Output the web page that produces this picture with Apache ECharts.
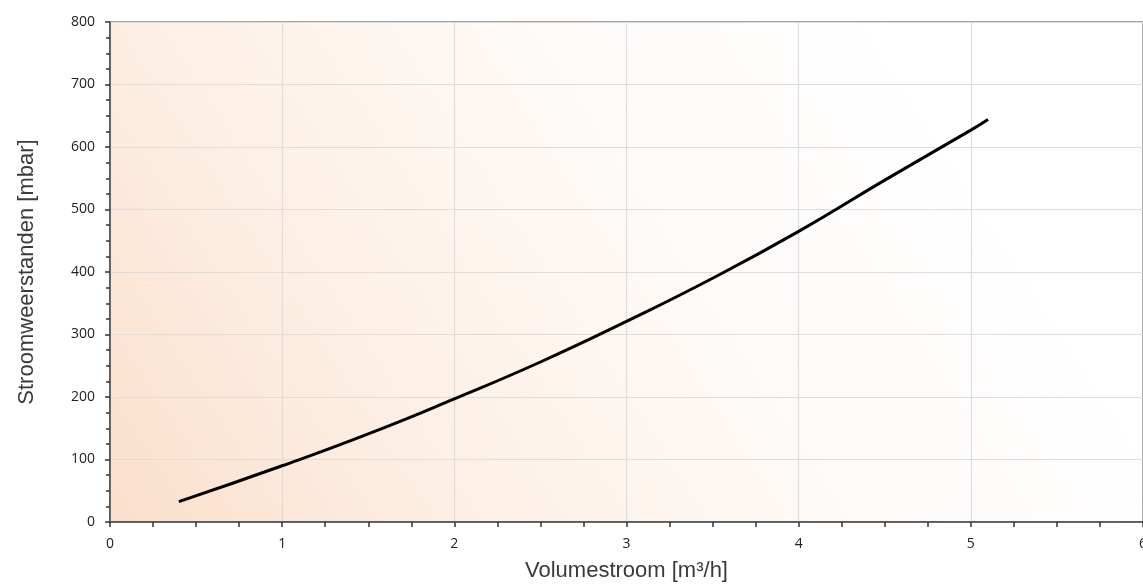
<!DOCTYPE html>
<html>
<head>
<meta charset="utf-8">
<script src="https://cdn.jsdelivr.net/npm/echarts@6/dist/echarts.min.js"></script>
<style>
html,body{margin:0;padding:0;background:#fff;}
#chart{width:1143px;height:586px;}
</style>
</head>
<body>
<div id="chart"></div>
<script>
var flowValues = [0.4, 1, 1.5, 2, 2.5, 3, 3.5, 4, 4.5, 5, 5.1];
var resistanceValues = [32.5, 90, 141, 197, 256, 321, 390, 465, 547, 627, 644];
var xAxisTitle = 'Volumestroom [m³/h]';
var yAxisTitle = 'Stroomweerstanden [mbar]';

var seriesData = flowValues.map(function (x, i) { return [x, resistanceValues[i]]; });

var chart = echarts.init(document.getElementById('chart'));
chart.setOption({
  animation: false,
  backgroundColor: '#ffffff',
  grid: {
    left: 110, right: 0, top: 22, bottom: 64,
    containLabel: false,
    outerBoundsMode: 'none',
    show: true,
    borderColor: '#444',
    borderWidth: 1,
    backgroundColor: new echarts.graphic.LinearGradient(0, 1, 0.75, 0, [
      { offset: 0, color: '#fbdfcb' },
      { offset: 0.35, color: '#fdf0e6' },
      { offset: 0.7, color: '#fefbf9' },
      { offset: 1, color: '#ffffff' }
    ])
  },
  xAxis: {
    type: 'value',
    min: 0, max: 6, interval: 1,
    name: xAxisTitle,
    nameLocation: 'middle',
    nameGap: 38,
    nameTextStyle: { fontFamily: 'Liberation Sans', fontSize: 22, color: '#3a3a3a' },
    axisLine: { show: true, lineStyle: { color: '#444', width: 1.5 } },
    axisTick: { show: true, length: 5, lineStyle: { color: '#333', width: 1.5 } },
    minorTick: { show: true, splitNumber: 4, length: 5, lineStyle: { color: '#333', width: 1.5 } },
    axisLabel: { fontFamily: 'Open Sans', fontSize: 14, color: '#222', margin: 15 },
    splitLine: { show: true, lineStyle: { color: '#dddddd', width: 1.2 } }
  },
  yAxis: {
    type: 'value',
    min: 0, max: 800, interval: 100,
    name: yAxisTitle,
    nameLocation: 'middle',
    nameRotate: 90,
    nameGap: 72,
    nameTextStyle: { fontFamily: 'Liberation Sans', fontSize: 22, color: '#3a3a3a' },
    axisLine: { show: true, lineStyle: { color: '#444', width: 1.5 } },
    axisTick: { show: true, length: 5, lineStyle: { color: '#333', width: 1.5 } },
    minorTick: { show: true, splitNumber: 4, length: 4, lineStyle: { color: '#333', width: 1.5 } },
    axisLabel: { fontFamily: 'Open Sans', fontSize: 14, color: '#222', margin: 15 },
    splitLine: { show: true, lineStyle: { color: '#dddddd', width: 1.2 } }
  },
  series: [{
    type: 'line',
    data: seriesData,
    smooth: true,
    showSymbol: false,
    symbol: 'none',
    lineStyle: { color: '#000', width: 3 }
  }]
});
</script>
</body>
</html>
